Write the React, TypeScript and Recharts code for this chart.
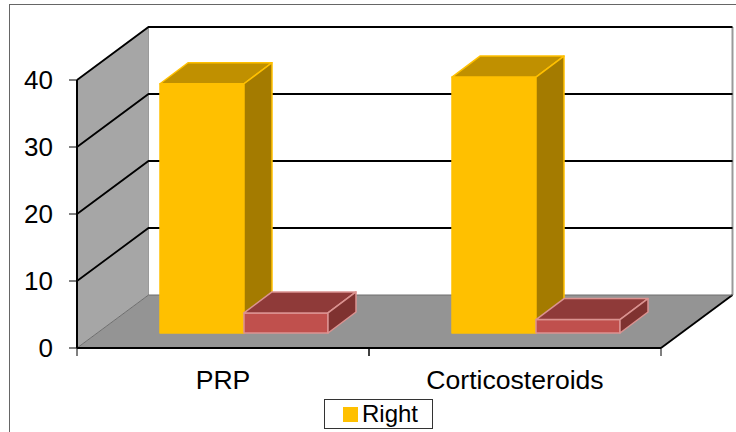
import { BarChart, Bar, XAxis, YAxis, CartesianGrid, Legend, ReferenceArea } from 'recharts';

const categories = ['PRP', 'Corticosteroids'];
const rightValues = [37.2, 38.2];
const leftValues = [3, 2];
const yTicks = [0, 10, 20, 30, 40];

const chartData = categories.map((name, i) => ({
  name,
  right: rightValues[i],
  left: leftValues[i],
}));

// 3D look: the excel chart has a back wall offset from the front plane
const WALL_DX = 71.5;
const WALL_DY = -53;
const BOX_DX = 28;
const BOX_DY = -21;
const BAR_SHIFT_X = 21;
const BAR_SHIFT_Y = -15;
const PLOT_LEFT = 77;
const PLOT_RIGHT = 661;
const FONT = '"Liberation Sans", Arial, sans-serif';

const YELLOW = { front: '#FFC000', top: '#C09000', side: '#A47B00', edge: '#FFC000' };
const RED = { front: '#C0504D', top: '#8F3A39', side: '#7F3230', edge: '#DB9391' };

function Walls(props: any) {
  const { x, y, width, height } = props;
  const r = x + width;
  const b = y + height;
  return (
    <g>
      <polygon
        points={`${x},${y} ${x + WALL_DX},${y + WALL_DY} ${x + WALL_DX},${b + WALL_DY} ${x},${b}`}
        fill="#A6A6A6"
      />
      <polygon
        points={`${x},${b} ${x + WALL_DX},${b + WALL_DY} ${r + WALL_DX},${b + WALL_DY} ${r},${b}`}
        fill="#949494"
      />
      <line x1={x + WALL_DX} y1={y + WALL_DY} x2={x + WALL_DX} y2={b + WALL_DY} stroke="#9A9A9A" strokeWidth={1} />
      <line x1={r + WALL_DX} y1={y + WALL_DY} x2={r + WALL_DX} y2={b + WALL_DY} stroke="#999" strokeWidth={2} />
      <line x1={r} y1={b} x2={r + WALL_DX} y2={b + WALL_DY} stroke="#000" strokeWidth={1.8} />
    </g>
  );
}

function GridLine3D(props: any) {
  const { x1, x2, y1 } = props;
  const isFloor = y1 > 340;
  const stroke = isFloor ? '#6E6E6E' : '#000';
  const w = isFloor ? 1 : 1.8;
  return (
    <polyline
      points={`${x1},${y1} ${x1 + WALL_DX},${y1 + WALL_DY} ${x2 + WALL_DX},${y1 + WALL_DY}`}
      fill="none"
      stroke={stroke}
      strokeWidth={w}
    />
  );
}

function makeBox(colors: typeof YELLOW) {
  return function Box(props: any) {
    const { x, y, width, height } = props;
    const l = x + BAR_SHIFT_X;
    const t = y + BAR_SHIFT_Y;
    const r = l + width;
    const b = t + height;
    return (
      <g stroke={colors.edge} strokeWidth={1.5} strokeLinejoin="round">
        <rect x={l} y={t} width={width} height={height} fill={colors.front} />
        <polygon
          points={`${l},${t} ${l + BOX_DX},${t + BOX_DY} ${r + BOX_DX},${t + BOX_DY} ${r},${t}`}
          fill={colors.top}
        />
        <polygon
          points={`${r},${t} ${r + BOX_DX},${t + BOX_DY} ${r + BOX_DX},${b + BOX_DY} ${r},${b}`}
          fill={colors.side}
        />
      </g>
    );
  };
}

function CategoryTick(props: any) {
  const { x, y, payload } = props;
  const half = (PLOT_RIGHT - PLOT_LEFT) / categories.length / 2;
  return (
    <g>
      <line x1={x - half} y1={348} x2={x - half} y2={356} stroke="#000" />
      <line x1={x + half} y1={348} x2={x + half} y2={356} stroke="#000" />
      <text x={x} y={y + 33} textAnchor="middle" fontSize={26.6} fontFamily={FONT} fill="#000">
        {payload.value}
      </text>
    </g>
  );
}

function LegendBox(props: any) {
  // the red series has no entry in the original legend
  const entries = props.payload.filter((entry: any) => entry.type !== 'none');
  return (
    <div
      style={{
        boxSizing: 'border-box',
        width: 109,
        height: 30,
        border: '1px solid #333',
        background: '#fff',
        display: 'flex',
        alignItems: 'center',
        paddingLeft: 18,
        fontFamily: FONT,
        fontSize: 24,
        color: '#000',
      }}
    >
      {entries.map((entry: any) => (
        <span key={entry.value} style={{ display: 'flex', alignItems: 'center' }}>
          <span style={{ width: 15, height: 15, background: entry.color, marginRight: 4 }} />
          {entry.value}
        </span>
      ))}
    </div>
  );
}

export default function App() {
  return (
    <div
      style={{
        position: 'absolute',
        left: 0,
        top: 0,
        width: 736,
        height: 432,
        overflow: 'hidden',
        background: '#fff',
      }}
    >
      <div
        style={{
          position: 'absolute',
          left: 9,
          top: 4,
          width: 727,
          height: 428,
          borderLeft: '1px solid #666',
          borderTop: '1px solid #666',
        }}
      />
      <BarChart
        width={736}
        height={432}
        data={chartData}
        barSize={84}
        barGap={0}
        margin={{ top: 80, right: 75, bottom: 20, left: 0 }}
      >
        <ReferenceArea y1={0} y2={40} shape={Walls} ifOverflow="visible" zIndex={-200} />
        <CartesianGrid vertical={false} horizontal={GridLine3D} />
        <XAxis
          dataKey="name"
          height={34}
          tickLine={false}
          axisLine={{ stroke: '#000', strokeWidth: 2 }}
          tick={CategoryTick}
          interval={0}
        />
        <YAxis
          domain={[0, 40]}
          ticks={yTicks}
          width={77}
          tickSize={8}
          tickMargin={16}
          tickLine={{ stroke: '#000' }}
          axisLine={{ stroke: '#000', strokeWidth: 2 }}
          tick={{ fontSize: 26, fontFamily: FONT, fill: '#000' }}
        />
        <Legend
          verticalAlign="bottom"
          content={LegendBox}
          wrapperStyle={{ left: 324, top: 399, bottom: 'auto', width: 109, height: 30 }}
        />
        <Bar dataKey="right" name="Right" fill={YELLOW.front} shape={makeBox(YELLOW)} isAnimationActive={false} />
        <Bar dataKey="left" name="Left" fill={RED.front} legendType="none" shape={makeBox(RED)} isAnimationActive={false} />
      </BarChart>
    </div>
  );
}
